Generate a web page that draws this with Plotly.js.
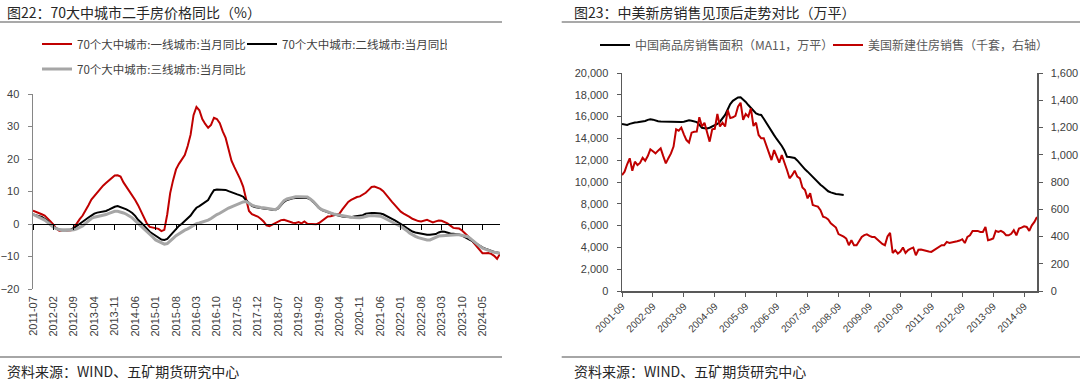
<!DOCTYPE html>
<html><head><meta charset="utf-8">
<script src="https://cdn.plot.ly/plotly-3.0.1.min.js"></script>
<style>
body{margin:0;background:#fff;width:1080px;height:383px;overflow:hidden;position:relative}
#c1{position:absolute;left:0;top:0;width:540px;height:383px}
#c2{position:absolute;left:540px;top:0;width:540px;height:383px}
</style></head>
<body><div id="c1"></div><div id="c2"></div>
<script>
// ---------- Figure 22 data (monthly, 2011-07 .. 2024-11) ----------
const leftStart = '2011-07';
const leftTickLabels = ['2011-07','2012-02','2012-09','2013-04','2013-11','2014-06','2015-01','2015-08','2016-03','2016-10','2017-05','2017-12','2018-07','2019-02','2019-09','2020-04','2020-11','2021-06','2022-01','2022-08','2023-03','2023-10','2024-05'];
const tier1 = [4.1,3.8,3.3,3.0,2.6,1.8,0.8,-0.2,-1.4,-2.1,-2.2,-2.1,-2.0,-1.9,-1.2,0.3,1.5,2.6,4.0,5.8,
7.5,8.6,9.8,10.8,11.8,12.6,13.3,14.2,14.9,15.0,14.6,12.8,11.5,10.0,8.9,7.4,5.8,4.0,1.8,0.2,
-0.9,-1.1,-1.3,-1.5,-2.2,-1.8,3.0,9.5,13.5,16.8,18.5,19.8,21.2,24.0,27.5,33.5,36.0,35.0,32.3,30.8,
29.6,30.5,32.7,32.3,31.0,28.5,26.5,23.0,19.5,17.5,15.8,13.8,11.5,8.0,4.0,3.0,2.6,2.3,1.6,0.8,
-0.4,-0.7,-0.2,0.2,0.6,1.2,1.3,1.0,0.6,0.4,0.3,0.6,0.2,0.8,0.1,0.1,0.0,-0.1,0.3,1.0,
1.8,2.3,2.4,2.6,2.8,3.2,4.5,5.8,6.8,7.4,7.9,8.3,8.5,9.0,9.6,10.5,11.4,11.5,11.2,10.8,
10.1,9.0,7.6,6.8,5.8,4.8,3.8,3.2,2.8,2.2,1.6,1.2,0.9,0.8,1.0,1.3,0.9,0.5,0.8,1.1,
1.0,0.6,0.2,-0.5,-1.2,-1.3,-1.4,-2.0,-2.8,-3.5,-4.6,-5.8,-6.8,-8.0,-9.0,-9.0,-8.9,-9.2,-9.8,-10.7,-9.2];
const tier2 = [2.9,2.7,2.5,2.2,1.6,0.9,-0.2,-0.9,-1.4,-1.7,-1.8,-1.8,-1.8,-1.7,-1.3,-0.6,0.1,0.8,1.4,2.0,
2.6,3.2,3.5,3.6,3.7,4.0,4.4,4.9,5.3,5.5,5.2,4.9,4.5,4.0,3.4,2.5,1.3,0.5,-0.5,-1.5,
-2.4,-3.0,-3.6,-4.2,-4.8,-4.9,-4.6,-3.6,-2.5,-1.6,-0.6,0.1,0.9,1.6,2.6,3.9,5.0,5.5,6.1,6.6,
7.4,9.0,10.4,10.6,10.6,10.6,10.5,10.1,9.7,9.3,9.1,8.8,8.4,7.3,6.3,5.6,5.2,5.0,4.9,4.8,
4.7,4.5,4.4,4.4,4.8,5.8,6.8,7.4,7.7,7.9,8.0,8.1,8.1,8.1,8.0,7.6,6.8,5.8,4.9,4.3,
3.9,3.6,3.3,3.0,2.7,2.5,2.3,2.2,2.1,2.1,2.3,2.4,2.5,2.7,3.2,3.4,3.4,3.4,3.4,3.2,
3.0,2.6,2.1,1.6,1.1,0.6,0.0,-0.6,-1.2,-1.8,-2.3,-2.6,-2.8,-3.0,-3.2,-3.3,-3.3,-3.3,-3.1,-2.6,
-2.3,-2.4,-2.7,-2.9,-3.0,-3.1,-3.2,-3.6,-4.0,-4.4,-5.0,-5.6,-6.2,-6.7,-7.2,-7.6,-8.0,-8.3,-8.6,-8.8,-9.0];
const tier3 = [3.0,2.6,2.2,1.8,1.2,0.5,-0.4,-1.0,-1.4,-1.8,-2.0,-2.0,-2.0,-1.9,-1.8,-1.5,-1.1,-0.6,0.2,1.1,
1.7,2.1,2.3,2.5,2.6,2.9,3.3,3.7,3.9,3.9,3.7,3.4,3.0,2.5,1.9,1.0,0.2,-0.6,-1.3,-2.2,
-3.1,-4.0,-4.9,-5.4,-5.9,-6.2,-6.0,-5.3,-4.4,-3.6,-3.0,-2.4,-1.9,-1.5,-1.0,-0.4,0.1,0.3,0.6,0.8,
1.2,1.7,2.4,2.9,3.3,3.9,4.4,4.9,5.3,5.7,6.2,6.6,6.8,6.9,6.3,5.8,5.5,5.2,5.1,5.0,
4.9,4.7,4.5,4.4,5.0,6.2,7.2,7.7,8.0,8.3,8.4,8.4,8.4,8.4,8.3,7.7,7.0,6.0,5.0,4.4,
4.0,3.7,3.4,3.1,2.9,2.7,2.5,2.4,2.2,2.1,2.0,1.9,1.9,2.1,2.4,2.5,2.6,2.6,2.6,2.4,
2.0,1.5,1.1,0.6,0.1,-0.3,-0.7,-1.3,-2.0,-2.8,-3.4,-3.8,-4.2,-4.5,-4.8,-4.9,-4.9,-4.6,-4.1,-3.7,
-3.6,-3.5,-3.4,-3.3,-3.3,-3.3,-3.3,-3.5,-3.7,-3.9,-4.6,-5.4,-6.1,-6.8,-7.4,-7.8,-8.1,-8.4,-8.7,-8.9,-9.0];
const leftNames = ['70个大中城市:一线城市:当月同比','70个大中城市:二线城市:当月同比','70个大中城市:三线城市:当月同比'];

// ---------- Figure 23 data (monthly, 2001-09 .. 2015-02) ----------
const rightStart = '2001-09';
const rightTickLabels = ['2001-09','2002-09','2003-09','2004-09','2005-09','2006-09','2007-09','2008-09','2009-09','2010-09','2011-09','2012-09','2013-09','2014-09'];
const chinaArea = [15320,15280,15230,15330,15420,15450,15480,15510,15530,15600,15700,15760,15720,15620,15580,15550,15540,15530,15520,15510,
15490,15470,15480,15500,15530,15600,15660,15620,15560,15500,15250,14980,14940,14920,14980,15080,15200,15330,15530,15800,
16150,16650,17150,17450,17620,17760,17770,17600,17350,17060,16800,16550,16300,16200,16150,15800,15400,15050,14700,14300,
13950,13650,13300,12900,12320,12300,12270,12200,11980,11700,11400,11160,10950,10700,10490,10250,10000,9750,9560,9350,
9150,9050,8950,8900,8870,8840,8810];
const usSales = [851,876,930,974,883,949,925,940,978,956,990,1040,1025,1010,1030,1047,990,937,975,1010,
1060,1187,1177,1199,1150,1108,1090,1162,1169,1170,1275,1207,1235,1169,1096,1187,1190,1299,1207,1235,
1207,1328,1269,1275,1285,1353,1382,1257,1299,1280,1341,1211,1235,1145,1121,1121,1072,1020,961,1034,
981,942,998,950,888,827,850,883,840,827,760,741,680,717,631,625,619,593,545,539,
525,497,483,466,418,409,399,385,336,372,336,336,365,397,410,416,405,397,397,380,
360,345,336,400,426,279,299,274,290,319,279,300,311,319,262,303,305,299,295,290,
287,300,315,328,336,336,360,352,355,360,365,370,380,352,397,409,441,441,441,433,
433,470,372,378,385,441,433,441,430,409,409,420,446,409,458,465,475,470,441,482,507,544];
const rightNames = ['中国商品房销售面积（MA11，万平）','美国新建住房销售（千套，右轴）'];

// ---------- helpers ----------
function months(start, n){
  let [y,m] = start.split('-').map(Number); const out=[];
  for(let i=0;i<n;i++){ out.push(y+'-'+String(m).padStart(2,'0')); m++; if(m>12){m=1;y++;} }
  return out;
}
const FONT = 'Liberation Sans, "Noto Sans CJK SC", sans-serif';
const CJK = '"Noto Sans CJK SC", "Liberation Sans", sans-serif';
const RED = '#C00000', GRAY = '#A6A6A6';

// ---------- Left chart ----------
const xl = months(leftStart, tier1.length);
const L = {l:33, r:500, t:94, b:289, W:540, H:383};
const lpx = x => (x - L.l)/(L.r - L.l);
const lpy = y => (L.b - y)/(L.b - L.t);

const leftTraces = [
  {x:xl, y:tier1, name:leftNames[0], type:'scatter', mode:'lines', line:{color:RED, width:2}, legend:'legend'},
  {x:xl, y:tier2, name:leftNames[1], type:'scatter', mode:'lines', line:{color:'#000000', width:2}, legend:'legend'},
  {x:xl, y:tier3, name:leftNames[2], type:'scatter', mode:'lines', line:{color:GRAY, width:3}, legend:'legend2'},
  {x:xl, y:tier3, xaxis:'x2', type:'scatter', mode:'lines', line:{color:GRAY, width:0}, opacity:0, showlegend:false, hoverinfo:'skip'}
];
const leftLayout = {
  width:540, height:383, paper_bgcolor:'#fff', plot_bgcolor:'#fff',
  margin:{l:L.l, r:L.W-L.r, t:L.t, b:L.H-L.b, pad:0},
  font:{family:FONT, color:'#404040', size:11},
  xaxis:{type:'category', categoryorder:'array', categoryarray:xl, range:[0, xl.length-1],
    tickvals:leftTickLabels, ticktext:leftTickLabels, tickangle:-90, ticks:'', showline:false, showgrid:false, zeroline:false,
    tickfont:{size:11, color:'#404040', family:FONT}, ticklabelstandoff:4},
  xaxis2:{type:'category', categoryorder:'array', categoryarray:xl, range:[0, xl.length-1], overlaying:'x', anchor:'free', position:(0-(-20))/60,
    tickvals:leftTickLabels, ticks:'outside', ticklen:5, tickcolor:'#000', showticklabels:false, showline:true, linecolor:'#000', linewidth:1, showgrid:false, zeroline:false},
  yaxis:{range:[-20,40], dtick:10, tick0:0, ticks:'outside', ticklen:4, tickcolor:'#868686', showline:true, linecolor:'#868686', linewidth:1.5,
    showgrid:false, zeroline:false, tickfont:{size:11, color:'#404040'}, ticklabelstandoff:6},
  showlegend:true,
  legend:{orientation:'h', x:lpx(37), xanchor:'left', y:lpy(44), yanchor:'middle', entrywidth:160, entrywidthmode:'pixels',
    font:{size:11.5, color:'#404040', family:CJK}, bgcolor:'rgba(0,0,0,0)'},
  legend2:{orientation:'h', x:lpx(37), xanchor:'left', y:lpy(69), yanchor:'middle',
    font:{size:11.5, color:'#404040', family:CJK}, bgcolor:'rgba(0,0,0,0)'},
  annotations:[
    {xref:'paper', yref:'paper', x:lpx(5), y:lpy(12), xanchor:'left', yanchor:'middle', showarrow:false,
     text:'图22：70大中城市二手房价格同比（%）', font:{family:CJK, size:14, color:'#262626'}},
    {xref:'paper', yref:'paper', x:lpx(5), y:lpy(371), xanchor:'left', yanchor:'middle', showarrow:false,
     text:'资料来源：WIND、五矿期货研究中心', font:{family:CJK, size:14, color:'#262626'}}
  ],
  shapes:[
    {type:'line', xref:'paper', yref:'paper', x0:lpx(0), x1:lpx(502), y0:lpy(22), y1:lpy(22), line:{color:'#8c8c8c', width:1.5}},
    {type:'line', xref:'paper', yref:'paper', x0:lpx(0), x1:lpx(502), y0:lpy(357), y1:lpy(357), line:{color:'#a6a6a6', width:2}}
  ]
};

// ---------- Right chart ----------
const xr = months(rightStart, usSales.length);
const R = {l:82, r:497, t:73, b:291, W:540, H:383};
const rpx = x => (x - R.l)/(R.r - R.l);
const rpy = y => (R.b - y)/(R.b - R.t);
const rightTraces = [
  {x:xr.slice(0, chinaArea.length), y:chinaArea, name:rightNames[0], type:'scatter', mode:'lines', line:{color:'#000000', width:2}},
  {x:xr, y:usSales, name:rightNames[1], type:'scatter', mode:'lines', yaxis:'y2', line:{color:'#C00000', width:2}}
];
const rightLayout = {
  width:540, height:383, paper_bgcolor:'#fff', plot_bgcolor:'#fff',
  margin:{l:R.l, r:R.W-R.r, t:R.t, b:R.H-R.b, pad:0},
  font:{family:FONT, color:'#404040', size:11},
  xaxis:{type:'category', categoryorder:'array', categoryarray:xr, range:[0, xr.length-1],
    tickvals:rightTickLabels, ticktext:rightTickLabels, tickangle:-45, ticks:'outside', ticklen:4, tickcolor:'#595959',
    showline:true, linecolor:'#595959', linewidth:1.5, showgrid:false, zeroline:false, tickfont:{size:10, color:'#404040'}},
  yaxis:{range:[0,20000], dtick:2000, tickformat:',d', ticks:'outside', ticklen:4, tickcolor:'#595959', showline:true, linecolor:'#595959', linewidth:1.5,
    showgrid:false, zeroline:false, tickfont:{size:11, color:'#404040'}, ticklabelstandoff:6},
  yaxis2:{range:[0,1600], dtick:200, tickformat:',d', overlaying:'y', side:'right', ticks:'outside', ticklen:4, tickcolor:'#595959', showline:true,
    linecolor:'#595959', linewidth:1.5, showgrid:false, zeroline:false, tickfont:{size:11, color:'#404040'}, ticklabelstandoff:6},
  showlegend:true,
  legend:{orientation:'h', x:rpx(595-540), xanchor:'left', y:rpy(45), yanchor:'middle', entrywidth:188, entrywidthmode:'pixels',
    font:{size:12, color:'#595959', family:CJK}, bgcolor:'rgba(0,0,0,0)'},
  annotations:[
    {xref:'paper', yref:'paper', x:rpx(31.7), y:rpy(12), xanchor:'left', yanchor:'middle', showarrow:false,
     text:'图23：中美新房销售见顶后走势对比（万平）', font:{family:CJK, size:14, color:'#262626'}},
    {xref:'paper', yref:'paper', x:rpx(31.7), y:rpy(371), xanchor:'left', yanchor:'middle', showarrow:false,
     text:'资料来源：WIND、五矿期货研究中心', font:{family:CJK, size:14, color:'#262626'}}
  ],
  shapes:[
    {type:'line', xref:'paper', yref:'paper', x0:rpx(21.7), x1:rpx(540), y0:rpy(22), y1:rpy(22), line:{color:'#8c8c8c', width:1.5}},
    {type:'line', xref:'paper', yref:'paper', x0:rpx(21.7), x1:rpx(540), y0:rpy(357), y1:rpy(357), line:{color:'#a6a6a6', width:2}}
  ]
};
const cfg = {staticPlot:true, displayModeBar:false};
Plotly.newPlot('c1', leftTraces, leftLayout, cfg);
Plotly.newPlot('c2', rightTraces, rightLayout, cfg);
</script></body></html>
